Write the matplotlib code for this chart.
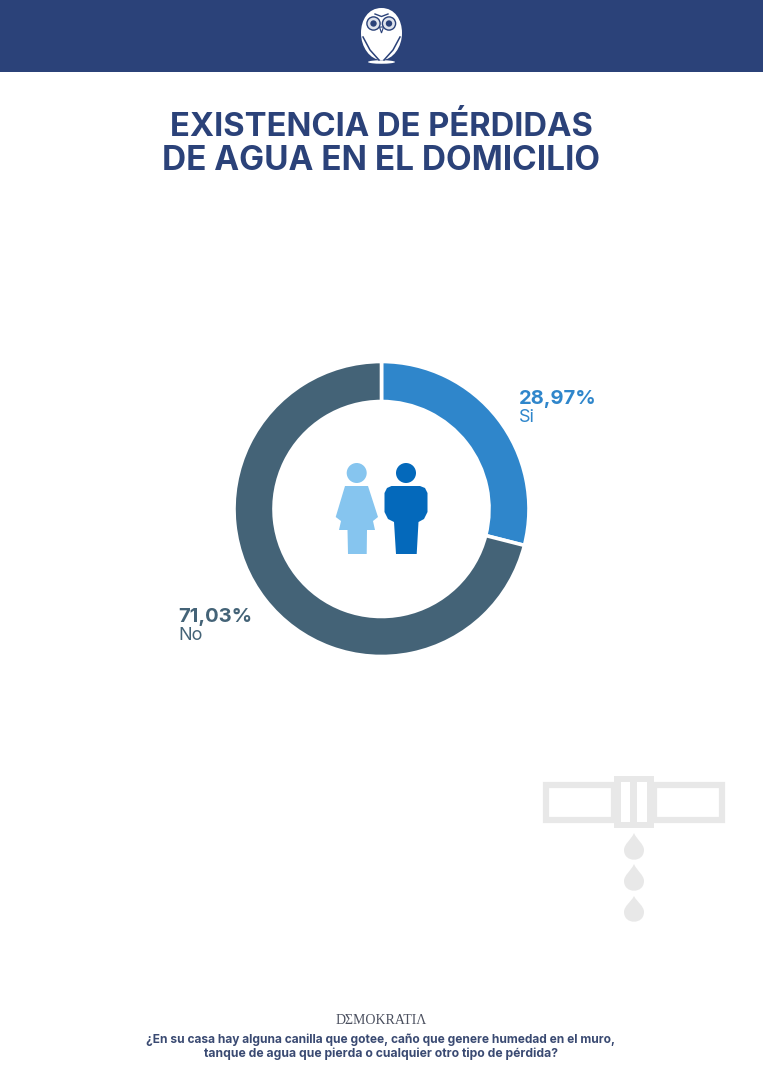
import matplotlib
matplotlib.use("Agg")
import matplotlib.pyplot as plt
from matplotlib.patches import Rectangle, Circle, Ellipse, Polygon, PathPatch
from matplotlib.path import Path

W, H = 763, 1080
NAVY = "#2b4279"
GREY = "#e8e8e8"

categories = ["Si", "No"]
shares = [28.97, 71.03]
share_labels = ["28,97%", "71,03%"]
slice_colors = ["#2f86cb", "#446377"]
title_lines = ["EXISTENCIA DE PÉRDIDAS", "DE AGUA EN EL DOMICILIO"]
question_lines = ["¿En su casa hay alguna canilla que gotee, caño que genere humedad en el muro,",
                  "tanque de agua que pierda o cualquier otro tipo de pérdida?"]

fig = plt.figure(figsize=(W / 100, H / 100), dpi=100, facecolor="white")
plt.rcParams["font.family"] = ["Inter", "DejaVu Sans"]

# Page layer in pixel coordinates, y pointing down
page = fig.add_axes([0, 0, 1, 1])
page.set_xlim(0, W)
page.set_ylim(H, 0)
page.axis("off")

# Header band and owl emblem
page.add_patch(Rectangle((0, 0), W, 72, fc=NAVY, ec="none"))
owl = Path([(381.5, 8), (395, 8), (402, 20), (402, 33), (402, 47), (393, 60), (381.5, 60),
            (370, 60), (361, 47), (361, 33), (361, 20), (368, 8), (381.5, 8)],
           [Path.MOVETO] + [Path.CURVE4] * 12)
page.add_patch(PathPatch(owl, fc="white", ec="none"))
page.add_patch(Ellipse((381.5, 62), 27, 3.5, fc="white", ec="none"))
for cx in (373.5, 389):
    page.add_patch(Circle((cx, 23.5), 6.6, fc="#dfe3ec", ec=NAVY, lw=1))
    page.add_patch(Circle((cx, 23.5), 3.2, fc=NAVY, ec="none"))
page.add_patch(Polygon([(379.5, 27), (383.5, 27), (381.5, 33)], fc="white", ec=NAVY, lw=0.8))
page.plot([363, 370, 379], [37, 50, 60], color=NAVY, lw=1.1)
page.plot([400, 393, 384], [37, 50, 60], color=NAVY, lw=1.1)
page.plot([375, 381.5, 388], [14, 16.5, 14], color=NAVY, lw=1)

# Headline
for text, y, size in zip(title_lines, (135.5, 169.5), (23.6, 24)):
    page.text(381.5, y, text, ha="center", va="baseline", color=NAVY, fontsize=size, fontweight="bold")

# Donut
cx, cy, r = 381.5, 509, 147.5
donut = fig.add_axes([(cx - r) / W, 1 - (cy + r) / H, 2 * r / W, 2 * r / H])
donut.pie(shares, colors=slice_colors, startangle=90, counterclock=False, radius=1,
          wedgeprops=dict(width=40 / r, edgecolor="white", linewidth=2.6))
donut.set_xlim(-1, 1)
donut.set_ylim(-1, 1)
donut.set_aspect("equal")

# Slice labels
page.text(519, 399, share_labels[0], color=slice_colors[0], fontsize=14.5, fontweight="bold", va="center")
page.text(519, 417, categories[0], color=slice_colors[0], fontsize=13, va="center")
page.text(178, 617, share_labels[1], color=slice_colors[1], fontsize=14.5, fontweight="bold", va="center")
page.text(178, 635, categories[1], color=slice_colors[1], fontsize=13, va="center")

# Figures in the middle of the ring
LIGHT, DARK = "#86c5ef", "#0469bb"
page.add_patch(Circle((356.7, 473), 10, fc=LIGHT, ec="none"))
page.add_patch(Polygon([(345, 486), (368, 486), (378, 517), (373, 521), (375, 530), (367, 530), (366.7, 554),
                        (348, 554), (347.5, 530), (339, 530), (341, 521), (335.7, 517)], fc=LIGHT, ec="none"))
page.add_patch(Circle((406, 473), 10, fc=DARK, ec="none"))
page.add_patch(Polygon([(391.5, 486), (420, 486), (425, 488), (427.5, 493), (427.5, 512), (424, 519),
                        (418.5, 522), (416.7, 554), (396, 554), (394, 522), (388, 519), (384.5, 512),
                        (384.5, 493), (387, 488)], fc=DARK, ec="none"))

# Dripping pipe
for x0, x1 in ((546, 614), (654, 721.5)):
    page.add_patch(Rectangle((x0, 784.5), x1 - x0, 35, fc="white", ec=GREY, lw=4.5))
page.add_patch(Rectangle((614, 776), 40, 52, fc=GREY, ec="none"))
for x0, x1 in ((620.7, 630), (637, 647)):
    page.add_patch(Rectangle((x0, 782), x1 - x0, 40, fc="white", ec="none"))
for tip, mid in ((833, 850), (864, 881), (896, 912)):
    drop = Path([(634, tip), (637, mid - 10), (644, mid - 6), (644, mid), (644, mid + 13), (624, mid + 13),
                 (624, mid), (624, mid - 6), (631, mid - 10), (634, tip)],
                [Path.MOVETO] + [Path.CURVE4] * 9)
    page.add_patch(PathPatch(drop, fc=GREY, ec="none"))

# Footer
page.text(381, 1020.5, "DΣMOKRATIΛ", ha="center", va="center", color="#4a4f5e", fontsize=10,
          family=["Liberation Serif", "DejaVu Serif"])
for text, y, size in zip(question_lines, (1039.5, 1053.5), (8.6, 8.75)):
    page.text(381, y, text, ha="center", va="center", color="#3a4a72", fontsize=size, fontweight="bold")

fig.savefig("out.png", dpi=100, facecolor="white")
